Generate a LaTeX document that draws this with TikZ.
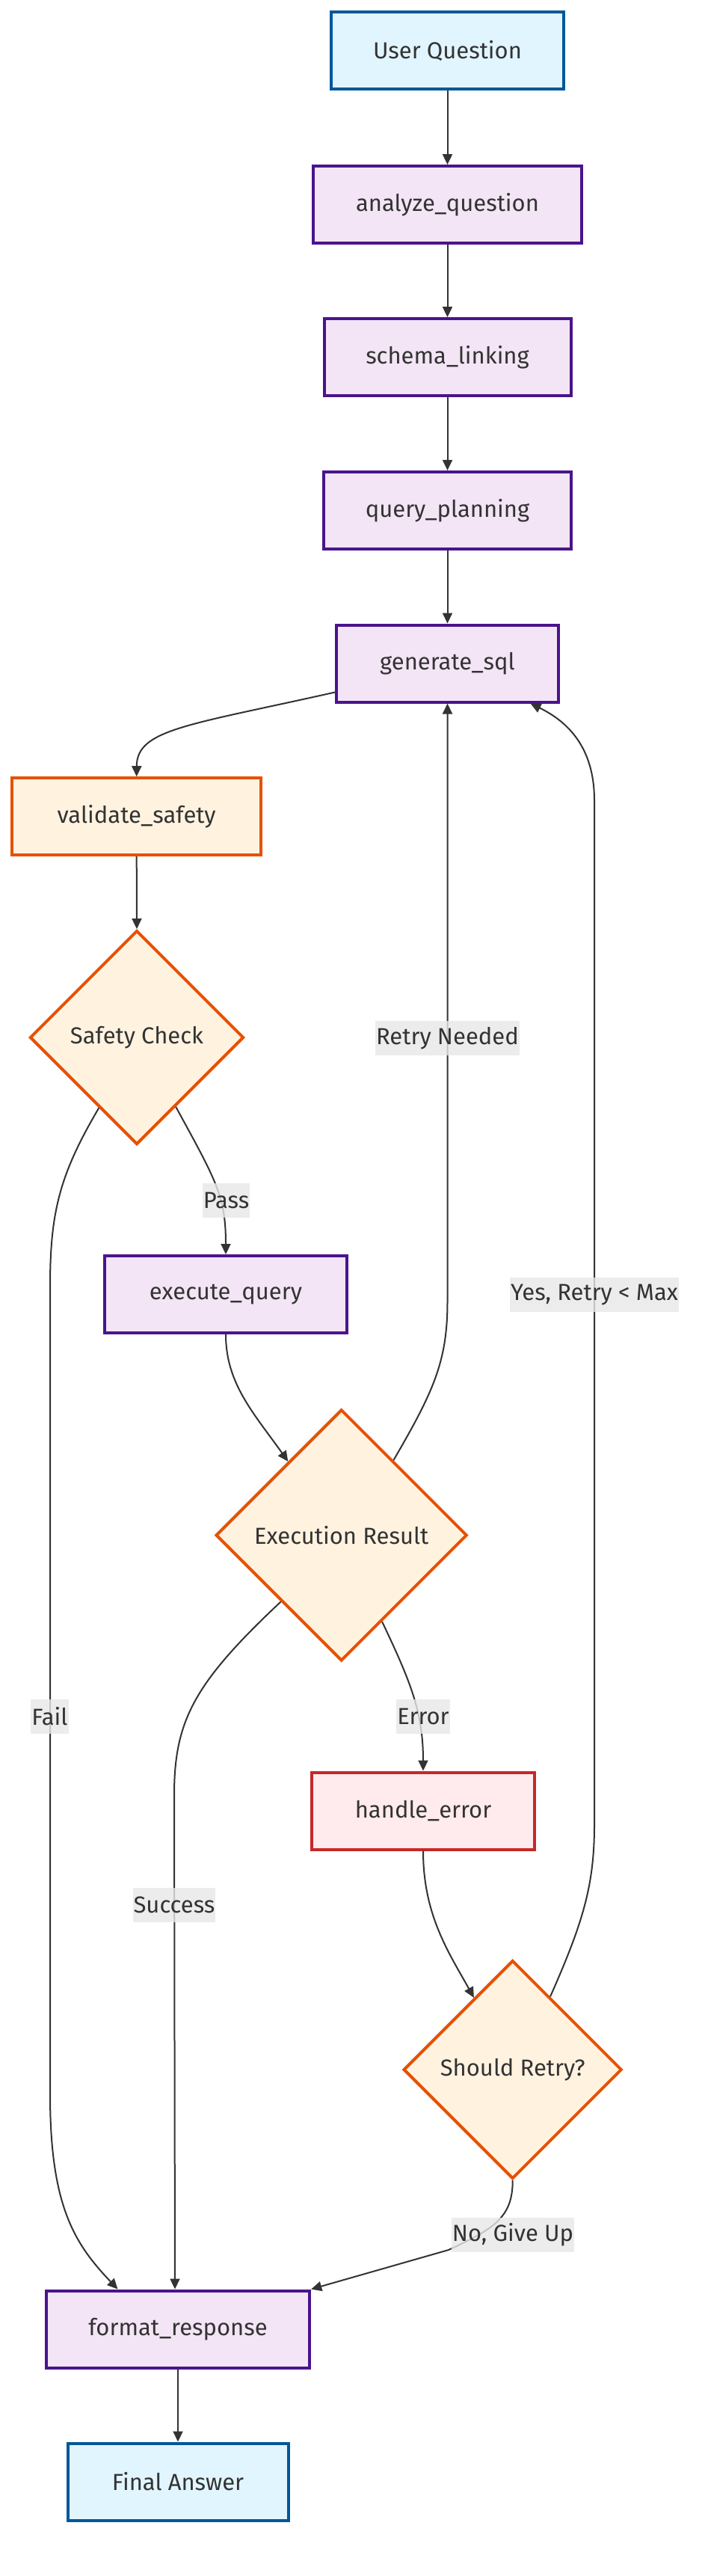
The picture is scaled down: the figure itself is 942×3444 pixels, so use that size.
\documentclass[tikz,border=0pt]{standalone}
\usepackage{fontspec}
\setmainfont{Fira Sans}
\usetikzlibrary{shapes.geometric,arrows.meta,calc}
\definecolor{ink}{HTML}{333333}
\definecolor{bluefill}{HTML}{E1F5FE}
\definecolor{bluestroke}{HTML}{01579B}
\definecolor{purpfill}{HTML}{F3E5F5}
\definecolor{purpstroke}{HTML}{4A148C}
\definecolor{orfill}{HTML}{FFF3E0}
\definecolor{orstroke}{HTML}{E65100}
\definecolor{redfill}{HTML}{FFEBEE}
\definecolor{redstroke}{HTML}{C62828}
\definecolor{lblfill}{HTML}{E8E8E8}
\begin{document}
\begin{tikzpicture}[x=1pt,y=-1pt,
  txt/.style={text=ink, font=\fontsize{31}{37}\selectfont},
  box/.style={txt, rectangle, draw, line width=4pt, minimum height=103pt, inner sep=0pt},
  io/.style={box, fill=bluefill, draw=bluestroke},
  proc/.style={box, fill=purpfill, draw=purpstroke},
  warnbox/.style={box, fill=orfill, draw=orstroke},
  errbox/.style={box, fill=redfill, draw=redstroke},
  decision/.style={txt, diamond, aspect=1, draw=orstroke, fill=orfill, line width=4pt, inner sep=0pt},
  edge/.style={draw=ink, line width=2pt, -{Triangle[length=14pt,width=13pt]}},
  elabel/.style={txt, fill=lblfill, fill opacity=0.8, text opacity=1, inner xsep=1pt, inner ysep=0pt, minimum height=46pt}
]
\fill[white] (0,0) rectangle (942,3444);
\useasboundingbox (0,0) rectangle (942,3444);

% nodes
\node[io, minimum width=311.5pt] (UQ) at (598.5,68) {User Question};
\node[proc, minimum width=359pt] (AQ) at (598.5,273.6) {analyze\_question};
\node[proc, minimum width=330pt] (SL) at (598.5,477.6) {schema\_linking};
\node[proc, minimum width=331pt] (QP) at (598.5,682.4) {query\_planning};
\node[proc, minimum width=297pt] (GS) at (598.5,887) {generate\_sql};
\node[warnbox, minimum width=332.6pt] (VS) at (182.7,1091.7) {validate\_safety};
\node[decision, minimum width=286pt, minimum height=286pt] (SC) at (183,1387) {Safety Check};
\node[proc, minimum width=324pt] (EQ) at (302,1730.5) {execute\_query};
\node[decision, minimum width=336pt, minimum height=336pt] (ER) at (456.7,2052.5) {Execution Result};
\node[errbox, minimum width=298pt] (HE) at (566,2421) {handle\_error};
\node[decision, minimum width=292pt, minimum height=292pt] (SR) at (685.7,2767) {Should Retry?};
\node[proc, minimum width=352.5pt] (FR) at (238,3114) {format\_response};
\node[io, minimum width=295pt] (FA) at (238,3318) {Final Answer};

% anchor points on diamond edges
\coordinate (scP) at ($(SC.south)!0.36!(SC.east)$);
\coordinate (scF) at ($(SC.south)!0.35!(SC.west)$);
\coordinate (erIn) at ($(ER.north)!0.42!(ER.west)$);
\coordinate (erR) at ($(ER.north)!0.41!(ER.east)$);
\coordinate (erS) at ($(ER.south)!0.477!(ER.west)$);
\coordinate (erE) at ($(ER.south)!0.32!(ER.east)$);
\coordinate (srIn) at ($(SR.north)!0.35!(SR.west)$);
\coordinate (srY) at ($(SR.north)!0.34!(SR.east)$);

% edges
\draw[edge] (UQ.south) -- (AQ.north);
\draw[edge] (AQ.south) -- (SL.north);
\draw[edge] (SL.south) -- (QP.north);
\draw[edge] (QP.south) -- (GS.north);
\draw[edge] ([yshift=15pt]GS.south west) .. controls (250,970) and (183,975) .. (VS.north);
\draw[edge] (VS.south) -- (SC.north);
\draw[edge] (scP) .. controls (290,1580) and (302,1600) .. (EQ.north);
\draw[edge] (scF) .. controls (80,1570) and (67,1620) .. (67,1720) -- (67,2800) .. controls (67,2950) and (100,3000) .. ([xshift=-80.5pt]FR.north);
\draw[edge] (EQ.south) .. controls (302,1850) and (340,1890) .. (erIn);
\draw[edge] (erR) .. controls (580,1860) and (598.5,1820) .. (598.5,1740) -- (GS.south);
\draw[edge] (erS) .. controls (260,2250) and (233,2300) .. (233,2400) -- ([xshift=-4pt]FR.north);
\draw[edge] (erE) .. controls (550,2250) and (566,2290) .. (HE.north);
\draw[edge] (HE.south) .. controls (566,2560) and (600,2610) .. (srIn);
\draw[edge] (srY) .. controls (780,2570) and (795,2520) .. (795,2440) -- (795,1070) .. controls (795,1000) and (760,965) .. ([xshift=111pt]GS.south);
\draw[edge] (SR.south) .. controls (686,2965) and (660,2980) .. (600,3008) -- (FR.north east);
\draw[edge] (FR.south) -- (FA.north);

% edge labels
\node[elabel] (lRetry) at (598.5,1388) {Retry Needed};
\node[elabel] (lYes) at (795,1731) {Yes, Retry < Max};
\node[elabel] (lPass) at (302.5,1605) {Pass};
\node[elabel] (lFail) at (66.5,2295) {Fail};
\node[elabel] (lError) at (566,2295) {Error};
\node[elabel] (lSuccess) at (233,2547) {Success};
\node[elabel] (lNo) at (686,2987.5) {No, Give Up};
\end{tikzpicture}
\end{document}
